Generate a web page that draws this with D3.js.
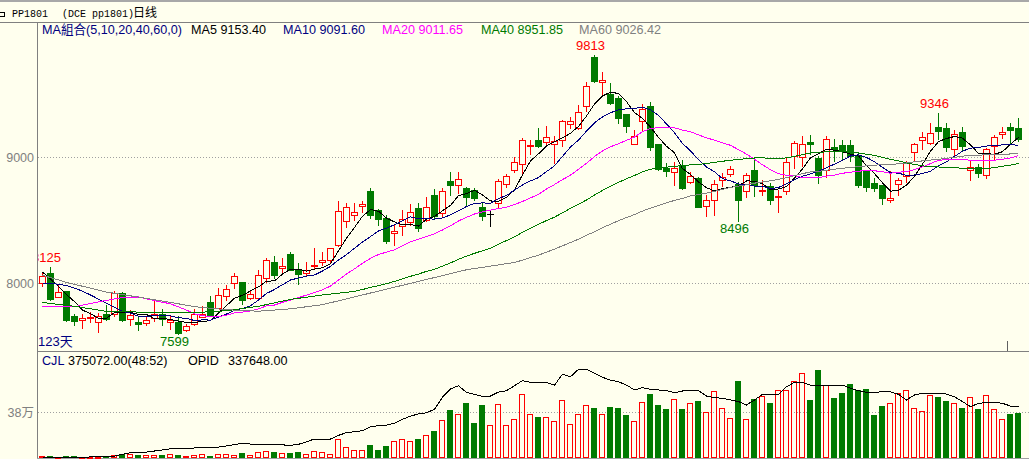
<!DOCTYPE html>
<html><head><meta charset="utf-8">
<script src="https://cdn.jsdelivr.net/npm/d3@7"></script>
<style>
html,body{margin:0;padding:0;background:#FFFFEE;}
svg{display:block;}
</style></head><body>
<svg id="c" width="1029" height="459"></svg>
<script>
// ---------- data ----------
const opens  = [8000,8079,7889,7933,7735,7703,7719,7690,7756,7756,7921,7714,7693,7683,7724,7751,7687,7687,7624,7677,
7730,7846,7799,7899,8000,8010,7883,7883,8037,8169,8121,8233,8106,8079,8132,8164,8180,8304,8490,8541,
8608,8728,8582,8513,8400,8455,8486,8595,8502,8701,8553,8806,8779,8754,8741,8605,8544,8635,8788,8894,
8947,9085,9132,9116,9106,9137,9262,9227,9402,9791,9595,9503,9465,9338,9106,9283,9407,9106,8910,8878,
8931,8800,8833,8608,8656,8815,8868,8788,8727,8899,8727,8772,8682,8727,9005,9000,9119,8992,8894,9079,
9098,9098,9005,8891,8794,8780,8656,8788,8846,9042,9132,9111,9238,9230,9064,9201,8899,8920,8860,9090,
9180,9238,9230];
const highs  = [8087,8125,7987,7935,7756,7756,7767,7762,7825,7933,7931,7783,7727,7735,7862,7790,7746,7735,7672,7790,
7817,7899,7963,7984,8079,8010,7942,8106,8196,8217,8201,8249,8159,8164,8278,8250,8280,8648,8635,8635,
8650,8755,8584,8540,8468,8580,8630,8635,8683,8750,8754,8880,8880,8764,8754,8642,8582,8822,8862,9000,
9150,9137,9230,9243,9164,9296,9320,9410,9593,9813,9672,9587,9482,9345,9212,9424,9434,9106,8952,8957,
8973,8880,8840,8701,8815,8870,8926,8800,8873,8989,8820,8790,8741,8989,9124,9164,9172,9005,9164,9143,
9137,9137,9030,8900,8833,8780,8886,8833,8965,9111,9196,9270,9346,9270,9212,9240,8965,8941,9072,9175,
9238,9270,9307];
const lows   = [7973,7865,7885,7695,7669,7643,7687,7608,7708,7735,7700,7664,7624,7664,7698,7664,7635,7599,7616,7669,
7730,7735,7799,7868,7957,7836,7875,7868,8005,8037,8079,8100,7989,8063,8119,8145,8169,8290,8444,8500,
8560,8515,8463,8317,8299,8383,8460,8415,8490,8505,8529,8702,8716,8612,8661,8497,8449,8595,8762,8878,
8862,9026,9077,9085,8950,9090,9230,9220,9363,9593,9500,9420,9270,9195,9106,9212,9053,8897,8852,8778,
8746,8790,8600,8529,8542,8767,8852,8496,8682,8693,8697,8625,8565,8708,8915,8926,9026,8796,8841,8971,
8981,8968,8765,8730,8730,8624,8640,8698,8802,8973,9064,9106,9142,9050,9019,9050,8816,8841,8833,8984,
9153,9106,9124];
const closes = [8058,7873,7929,7709,7695,7719,7730,7740,7717,7921,7703,7748,7671,7709,7756,7714,7703,7603,7661,7751,
7756,7735,7905,7952,8052,7868,7910,8063,8180,8063,8137,8106,8068,8100,8143,8185,8275,8574,8603,8567,
8630,8542,8505,8330,8416,8509,8565,8436,8606,8529,8730,8777,8825,8681,8671,8535,8544,8806,8846,8960,
9137,9098,9085,9159,9129,9288,9283,9357,9566,9606,9613,9429,9306,9243,9169,9384,9079,8905,8889,8915,
8751,8850,8603,8661,8786,8841,8907,8656,8860,8780,8741,8656,8693,8960,9111,9106,9103,8854,9143,9064,
9045,9005,8780,8759,8754,8675,8675,8820,8957,9106,9156,9190,9203,9079,9185,9090,8920,8873,9064,9159,
9195,9217,9143];
// volume (CJL), lots
const volumes = [17000,17000,8000,17000,17000,8000,8000,12000,12000,21000,33000,31000,25000,22000,22000,25000,31000,25000,17000,22000,
31000,17000,31000,31000,25000,39000,25000,47000,55000,47000,39000,44000,47000,33000,55000,47000,33000,154000,88000,66000,
66000,107000,66000,99000,138000,154000,140000,157000,188000,226000,311000,397000,363000,454000,289000,438000,270000,444000,270000,320000,
529000,361000,339000,336000,306000,477000,278000,361000,435000,413000,361000,424000,416000,358000,306000,463000,529000,438000,405000,485000,
405000,454000,471000,380000,551000,411000,328000,636000,320000,487000,510000,454000,559000,559000,634000,700000,479000,727000,601000,496000,
537000,611000,562000,570000,355000,430000,452000,539000,559000,411000,388000,518000,504000,471000,452000,413000,501000,405000,518000,402000,
320000,363000,375072];
// open interest (OPID)
const opid = [2000,2000,2000,2000,4000,4000,7000,11000,11000,13000,24000,35000,35000,39000,46000,53000,61000,64000,64000,66000,
66000,68000,72000,79000,88000,97000,92000,88000,88000,88000,86000,84000,90000,107000,125000,125000,125000,149000,167000,173000,
180000,206000,213000,217000,228000,255000,276000,290000,298000,321000,400000,454000,476000,432000,419000,406000,408000,434000,443000,476000,
509000,498000,500000,496000,480000,551000,535000,584000,584000,557000,531000,513000,502000,480000,448000,463000,452000,448000,443000,430000,
441000,443000,443000,408000,397000,393000,382000,371000,349000,382000,419000,419000,419000,469000,498000,496000,480000,474000,474000,474000,
480000,459000,443000,432000,432000,436000,436000,419000,382000,415000,426000,426000,426000,421000,403000,371000,338000,360000,364000,367000,
360000,342000,337648];

// moving averages: values before the first full window
const maPeriods = [5, 10, 20, 40, 60];
const ma5HeadIdx  = [0,1,2,3];
const ma5HeadVal  = [8087,8032,7973,7907];
const ma10HeadIdx = [0,1,2,3,4,5,6,7,8];
const ma10HeadVal = [8000,7997,7990,7979,7960,7935,7905,7872,7840];
const ma20HeadIdx = [0,4,7,10,12,14,16,18];
const ma20HeadVal = [7814,7812,7850,7885,7889,7860,7835,7785];
const ma40HeadIdx = [0,4,8,13,19,23,27,31,35];
const ma40HeadVal = [7845,7815,7775,7768,7765,7780,7815,7870,7905];
const ma60HeadIdx = [0,3,8,12,16,19,23,27,31,35,40,53];
const ma60HeadVal = [8062,8005,7928,7888,7846,7812,7788,7776,7795,7828,7905,8105];
const maLegendNames  = ["MA5","MA10","MA20","MA40","MA60"];
const maLegendValues = [9153.40, 9091.60, 9011.65, 8951.85, 9026.42];

const priceTicks = [8000, 9000];
const volTicks = [380000];
const cjlRatio = "(48:52)";
// labelled extremes: [index, kind]
const markIdx  = [1, 69, 112, 17, 87];
const markKind = ["high","high","high","low","low"];
const dayCountLabel = "123天";

// ---------- drawing ----------
const BG = "#FFFFEE", RED = "#FF0000", GREEN = "#007A00", NAVY = "#000080",
      MAG = "#FF00FF", DKGREEN = "#007A00", GRAY = "#808080";
const maColors = ["#000000", NAVY, MAG, DKGREEN, GRAY];
const FONT = "'Liberation Sans', Arial, 'Noto Sans CJK SC', sans-serif";

const N = closes.length;
const svg = d3.select("#c");
svg.append("rect").attr("width",1029).attr("height",459).attr("fill",BG);

const x  = d3.scaleBand().domain(d3.range(N)).range([38, 38 + 8 * N]);
const col = i => x(i) + 4;
const y  = d3.scaleLinear().domain([8000, 9000]).range([283, 157]);
const yv = d3.scaleLinear().domain([0, 380000]).range([458, 412]);
const yo = d3.scaleLinear().domain([0, 337648]).range([458, 406.7]);
const py = v => Math.round(y(v));
const pv = v => Math.round(yv(v));

// frame
svg.append("rect").attr("x",0).attr("y",0).attr("width",1029).attr("height",2).attr("fill","#A8A8A8");
const frame = svg.append("g").attr("stroke",GRAY).attr("shape-rendering","crispEdges");
frame.append("line").attr("x1",0).attr("x2",1029).attr("y1",22.5).attr("y2",22.5);
frame.append("line").attr("x1",37.5).attr("x2",37.5).attr("y1",22).attr("y2",459);
frame.append("line").attr("x1",37).attr("x2",1029).attr("y1",351.5).attr("y2",351.5);
frame.append("line").attr("x1",37).attr("x2",1029).attr("y1",458.5).attr("y2",458.5).attr("stroke","#A0A0A0");
frame.append("line").attr("x1",1007.5).attr("x2",1007.5).attr("y1",341).attr("y2",351).attr("stroke","#606060");
frame.append("line").attr("x1",1007.5).attr("x2",1007.5).attr("y1",449).attr("y2",458).attr("stroke","#909090");

// title
svg.append("path").attr("d","M0,12.5H4.5V16.5H0").attr("fill","none").attr("stroke","#000").attr("shape-rendering","crispEdges");
const title = svg.append("text").attr("x",12).attr("y",17).attr("font-family","'Liberation Mono', monospace").attr("font-size",10).attr("fill","#000");
title.append("tspan").text("PP1801");
title.append("tspan").attr("x",62).text("(DCE pp1801)");
title.append("tspan").attr("font-family","'Noto Sans CJK SC', sans-serif").attr("font-size",12).attr("x",133).text("日线");

// grid lines
const grid = svg.append("g").attr("stroke","#A0A0A0").attr("stroke-dasharray","1,2").attr("shape-rendering","crispEdges");
priceTicks.forEach(t => grid.append("line").attr("x1",38).attr("x2",1029).attr("y1",py(t)+0.5).attr("y2",py(t)+0.5));
volTicks.forEach(t => grid.append("line").attr("x1",38).attr("x2",1029).attr("y1",pv(t)+0.5).attr("y2",pv(t)+0.5));

// axes labels
const styleAxis = g => {
  g.select(".domain").remove();
  g.attr("font-family", FONT).attr("font-size", 12.5);
  g.selectAll("text").attr("fill", GRAY);
};
svg.append("g").attr("transform","translate(37,0.5)")
  .call(d3.axisLeft(y).tickValues(priceTicks).tickSize(0).tickPadding(3).tickFormat(d3.format("d")))
  .call(styleAxis);
svg.append("g").attr("transform","translate(37,0.5)")
  .call(d3.axisLeft(yv).tickValues(volTicks).tickSize(0).tickPadding(3).tickFormat(d => (d/10000) + "万"))
  .call(styleAxis);

// legends
const leg = svg.append("g").attr("font-family",FONT).attr("font-size",12.6);
leg.append("text").attr("x",42).attr("y",34).attr("fill",NAVY).text("MA組合(" + maPeriods.join(",") + ",0)");
const legX = [191, 283, 382, 481, 579];
maLegendNames.forEach((n,k) => leg.append("text").attr("x",legX[k]).attr("y",34)
  .attr("fill",maColors[k]).text(n + " " + maLegendValues[k].toFixed(2)));
leg.append("text").attr("x",42).attr("y",365).attr("fill",NAVY).text("CJL");
leg.append("text").attr("x",68).attr("y",365).attr("fill","#000").text(volumes[N-1].toFixed(2) + cjlRatio);
leg.append("text").attr("x",188).attr("y",365).attr("fill","#000").text("OPID");
leg.append("text").attr("x",228).attr("y",365).attr("fill","#000").text(opid[N-1].toFixed(2));

// price panel
svg.append("clipPath").attr("id","pc").append("rect").attr("x",38).attr("y",23).attr("width",991).attr("height",328);
const gP = svg.append("g").attr("clip-path","url(#pc)");
const gC = gP.append("g").attr("shape-rendering","crispEdges");
d3.range(N).forEach(i => {
  const o = opens[i], c = closes[i], h = highs[i], l = lows[i];
  const cx = col(i);
  const color = c > o ? RED : c < o ? GREEN : "#000";
  gC.append("line").attr("x1",cx+0.5).attr("x2",cx+0.5).attr("y1",py(h)).attr("y2",py(l)+1).attr("stroke",color);
  if (c > o) {
    const t = py(c), b = py(o);
    gC.append("rect").attr("x",cx-2.5).attr("y",t+0.5).attr("width",6).attr("height",Math.max(b-t,1))
      .attr("fill",BG).attr("stroke",RED);
  } else if (c < o) {
    const t = py(o), b = py(c);
    gC.append("rect").attr("x",cx-3).attr("y",t).attr("width",7).attr("height",Math.max(b-t,1)+1).attr("fill",GREEN);
  } else {
    gC.append("line").attr("x1",cx-3).attr("x2",cx+4).attr("y1",py(o)+0.5).attr("y2",py(o)+0.5).attr("stroke","#000");
  }
});

// moving averages
const heads = [[ma5HeadIdx,ma5HeadVal],[ma10HeadIdx,ma10HeadVal],[ma20HeadIdx,ma20HeadVal],[ma40HeadIdx,ma40HeadVal],[ma60HeadIdx,ma60HeadVal]];
const line = d3.line().x(d => col(d.i) + 0.5).y(d => y(d.v));
maPeriods.forEach((n,k) => {
  const pts = heads[k][0].map((i,j) => ({i, v: heads[k][1][j]}));
  for (let i = n - 1; i < N; i++) pts.push({i, v: d3.mean(closes.slice(i - n + 1, i + 1))});
  gP.append("path").datum(pts).attr("d",line).attr("fill","none").attr("stroke",maColors[k])
    .attr("stroke-width",1).attr("shape-rendering","crispEdges");
});

// extreme labels
const lab = gP.append("g").attr("font-family",FONT).attr("font-size",13).attr("text-anchor","middle");
markIdx.forEach((i,k) => {
  const hi = markKind[k] === "high";
  const v = hi ? highs[i] : lows[i];
  lab.append("text").attr("x",col(i)-3.5).attr("y", hi ? y(v) - 5 : y(v) + 12.5)
    .attr("fill", hi ? RED : DKGREEN).text(v);
});
gP.append("text").attr("x",38).attr("y",346).attr("font-family",FONT).attr("font-size",13)
  .attr("fill",NAVY).text(dayCountLabel);

// volume panel
const gV = svg.append("g").attr("shape-rendering","crispEdges");
d3.range(N).forEach(i => {
  const cx = col(i), t = pv(volumes[i]);
  if (closes[i] >= opens[i]) {
    gV.append("rect").attr("x",cx-2.5).attr("y",t+0.5).attr("width",5).attr("height",Math.max(457-t,0.5))
      .attr("fill","none").attr("stroke",RED);
  } else {
    gV.append("rect").attr("x",cx-3).attr("y",t).attr("width",6).attr("height",458-t).attr("fill",GREEN);
  }
});
const oline = d3.line().x((d,i) => col(i) + 0.5).y(d => yo(d));
svg.append("path").datum(opid).attr("d",oline).attr("fill","none").attr("stroke","#000")
  .attr("stroke-width",1).attr("shape-rendering","crispEdges");
</script>
</body></html>
